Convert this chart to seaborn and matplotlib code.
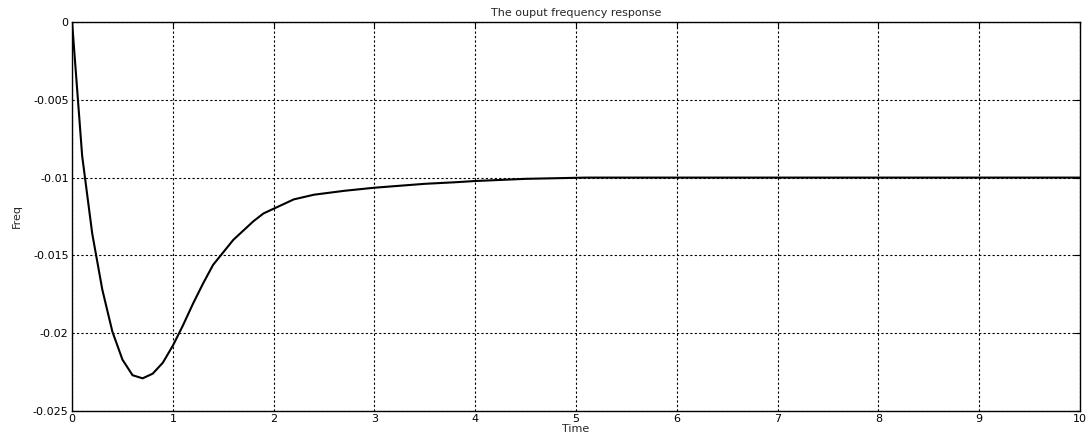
import matplotlib
matplotlib.use("Agg")
import matplotlib.pyplot as plt
import seaborn as sns
import pandas as pd

# Sampled frequency deviation of the output
time = [0.0, 0.1, 0.2, 0.3, 0.4, 0.5, 0.6, 0.7, 0.8, 0.9, 1.0,
        1.1, 1.2, 1.3, 1.4, 1.5, 1.6, 1.7, 1.8, 1.9, 2.0,
        2.2, 2.4, 2.7, 3.0, 3.5, 3.8, 4.0, 4.5, 5.1, 6.0, 7.0, 8.0, 9.0, 10.0]
freq = [0.0, -0.0086, -0.0136, -0.0172, -0.0199, -0.0217, -0.0227, -0.0229,
        -0.0226, -0.0219, -0.0208,
        -0.0195, -0.0181, -0.0168, -0.0156, -0.0148, -0.0140, -0.0134, -0.0128,
        -0.0123, -0.0120,
        -0.0114, -0.0111, -0.01085, -0.01065, -0.0104, -0.0103, -0.01022,
        -0.01008, -0.0100, -0.0100, -0.0100, -0.0100, -0.0100, -0.0100]

xticks = list(range(0, 11))
yticks = [0, -0.005, -0.01, -0.015, -0.02, -0.025]
ytick_labels = ["0", "-0.005", "-0.01", "-0.015", "-0.02", "-0.025"]

sns.set_style("white")
plt.rcParams["font.family"] = ["DejaVu Sans"]

df = pd.DataFrame({"Time": time, "Freq": freq})

fig = plt.figure(figsize=(10.92, 4.44), dpi=100)
ax = fig.add_axes([0.066, 0.0743, 0.923, 0.8762])
sns.lineplot(data=df, x="Time", y="Freq", ax=ax, color="black", linewidth=1.5)

ax.set_xlim(0, 10)
ax.set_ylim(-0.025, 0)
ax.set_xticks(xticks)
ax.set_xticklabels([str(t) for t in xticks])
ax.set_yticks(yticks)
ax.set_yticklabels(ytick_labels)

ax.grid(True, color="black", linestyle=(0, (2, 2)), linewidth=0.8)
ax.tick_params(direction="in", length=4, width=0.8, labelsize=8,
               top=True, right=True, colors="black", pad=2.5)
for side in ax.spines.values():
    side.set_color("black")
    side.set_linewidth(1.0)

ax.set_title("The ouput frequency response", fontsize=8, pad=4)
ax.set_xlabel("Time", fontsize=8, labelpad=0)
ax.set_ylabel("Freq", fontsize=8, labelpad=8)

fig.savefig("out.png", dpi=100)
